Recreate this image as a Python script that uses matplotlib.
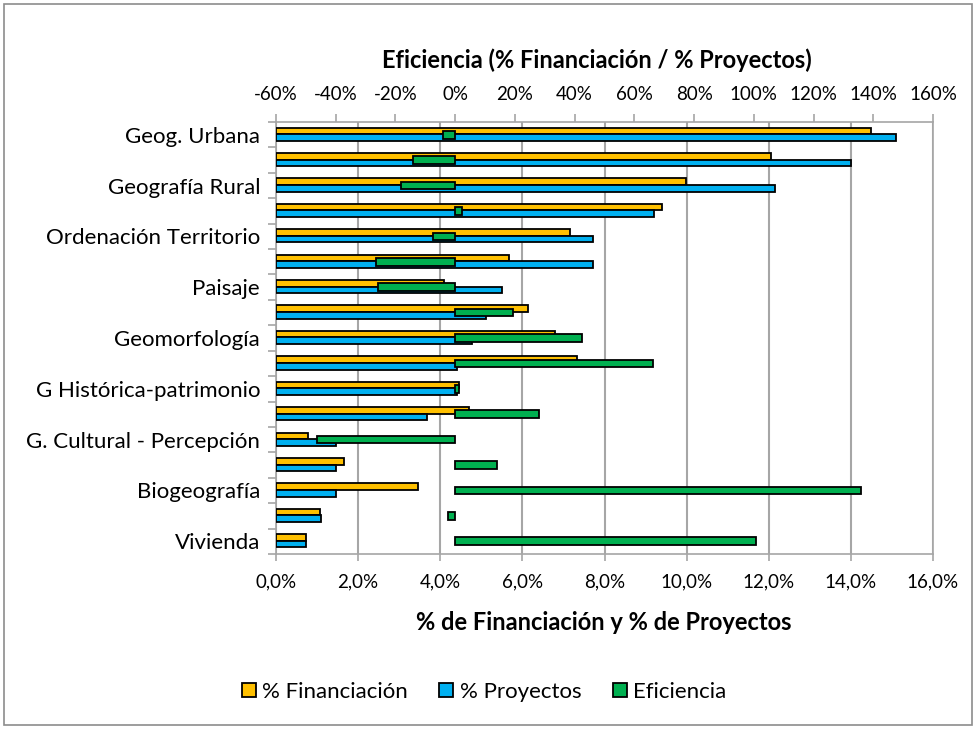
import matplotlib
matplotlib.use("Agg")
import matplotlib.pyplot as plt
import matplotlib.ticker as mticker
from matplotlib.patches import Patch, Rectangle

# categories, top to bottom (only every other one is labelled in the original)
categorias = ['Geog. Urbana', '', 'Geografía Rural', '', 'Ordenación Territorio', '',
              'Paisaje', '', 'Geomorfología', '', 'G Histórica-patrimonio', '',
              'G. Cultural - Percepción', '', 'Biogeografía', '', 'Vivienda']
financiacion = [14.5, 12.05, 9.98, 9.41, 7.15, 5.68, 4.09, 6.14, 6.80, 7.34,
                4.46, 4.71, 0.78, 1.66, 3.46, 1.07, 0.73]          # % (bottom axis)
proyectos = [15.1, 14.0, 12.15, 9.2, 7.73, 7.73, 5.51, 5.12, 4.78, 4.41,
             4.41, 3.68, 1.46, 1.46, 1.46, 1.10, 0.73]             # % (bottom axis)
eficiencia = [-4, -14, -18, 2.3, -7.5, -26.5, -25.8, 19.4, 42.6, 66.4,
              1.3, 28.2, -46.4, 14.1, 136, -2.5, 100.7]            # % (top axis)

c_fin = '#FFC000'
c_pro = '#00B0F0'
c_efi = '#00B050'
grid_c = '#A6A6A6'

plt.rcParams['font.family'] = ['Lato', 'DejaVu Sans']

fig = plt.figure(figsize=(9.77, 7.29), dpi=100)
fig.patches.append(Rectangle((4 / 977, 4 / 729), 968 / 977, 721 / 729, transform=fig.transFigure,
                             fill=False, edgecolor='#8C8C8C', linewidth=1.2))

# plot area: x 276..933 px, y 122..554 px
ax = fig.add_axes([276 / 977, 1 - 554 / 729, 657 / 977, 432 / 729])
y = list(range(len(categorias)))
h = 0.26
ax.barh([v - h / 2 - 0.02 for v in y], [f / 100 for f in financiacion], height=h,
        color=c_fin, edgecolor='black', linewidth=1.3, zorder=3)
ax.barh([v + h / 2 - 0.02 for v in y], [p / 100 for p in proyectos], height=h,
        color=c_pro, edgecolor='black', linewidth=1.3, zorder=3)

ax.set_xlim(0, 0.16)
ax.set_ylim(len(categorias) - 0.5, -0.5)
ax.set_xticks([i * 0.02 for i in range(9)])
ax.xaxis.set_major_formatter(mticker.FuncFormatter(lambda v, p: f'{v * 100:.1f}%'.replace('.', ',')))
ax.grid(axis='x', color=grid_c, linewidth=1.5, zorder=0)
ax.set_yticks(y)
ax.set_yticklabels(categorias)
ax.set_yticks([v + 0.5 for v in range(-1, len(categorias))], minor=True)
ax.tick_params(axis='y', which='major', length=0, pad=11.5, labelsize=16)
ax.tick_params(axis='y', which='minor', length=5.5, color=grid_c, width=1.2)
ax.tick_params(axis='x', length=5, color=grid_c, width=1.2, labelsize=13.5, pad=9)
for s in ax.spines.values():
    s.set_color(grid_c)
    s.set_linewidth(1.2)

ax2 = ax.twiny()
ax2.barh(y, eficiencia, height=0.3, color=c_efi, edgecolor='black', linewidth=1.3, zorder=4)
ax2.set_xlim(-60, 160)
ax2.set_xticks(range(-60, 161, 20))
ax2.xaxis.set_major_formatter(mticker.FuncFormatter(lambda v, p: f'{v:.0f}%'))
ax2.tick_params(axis='x', length=5.5, color=grid_c, width=1.2, labelsize=13.5, pad=8)
for s in ax2.spines.values():
    s.set_visible(False)

fig.text(597 / 977, 1 - 60 / 729, 'Eficiencia (% Financiación / % Proyectos)',
         ha='center', va='center', fontsize=17, fontweight='bold')
fig.text(604 / 977, 1 - 622 / 729, '% de Financiación y % de Proyectos',
         ha='center', va='center', fontsize=17, fontweight='bold')

handles = [Patch(facecolor=c_fin, edgecolor='black', linewidth=1.3),
           Patch(facecolor=c_pro, edgecolor='black', linewidth=1.3),
           Patch(facecolor=c_efi, edgecolor='black', linewidth=1.3)]
fig.legend(handles, ['% Financiación', '% Proyectos', 'Eficiencia'], ncol=3,
           loc='center', bbox_to_anchor=(484 / 977, 1 - 692 / 729), frameon=False,
           fontsize=16, handlelength=0.63, handleheight=0.63, handletextpad=0.3,
           columnspacing=1.4)

fig.savefig('out.png', dpi=100)
